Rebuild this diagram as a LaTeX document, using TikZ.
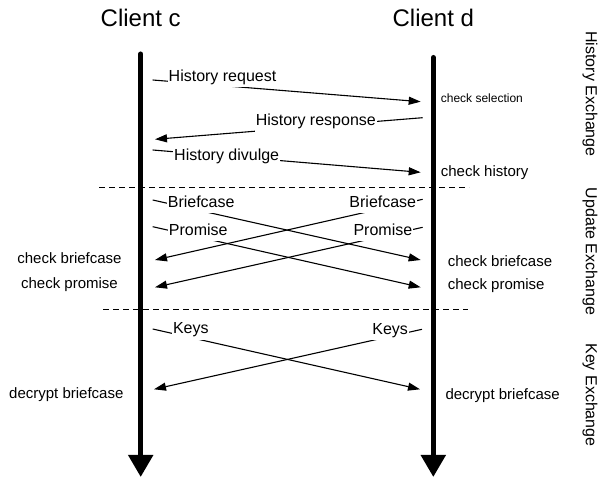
\documentclass[tikz,border=0pt]{standalone}
\usepackage{fontspec}
\setmainfont{Liberation Sans}
\usetikzlibrary{arrows.meta}
\begin{document}
\begin{tikzpicture}[x=1pt,y=-1pt,
  life/.style={line width=5pt, line cap=round, -{Triangle[length=22pt,width=24pt]}},
  msg/.style={line width=1.1pt, -{Triangle[length=12pt,width=8pt]}},
  lbl/.style={fill=white, font=\fontsize{16}{19}\selectfont, inner xsep=1pt, inner ysep=2.5pt, text height=11.5pt, text depth=3.5pt},
  chk/.style={font=\fontsize{15}{18}\selectfont, inner sep=0pt},
  chksmall/.style={font=\fontsize{12}{14}\selectfont, inner sep=0pt},
  sep/.style={line width=1pt, dash pattern=on 6pt off 4pt},
  title/.style={font=\fontsize{24}{28}\selectfont, inner sep=0pt, anchor=base},
  phase/.style={font=\fontsize{16}{19}\selectfont, rotate=-90, inner sep=0pt}]
\useasboundingbox (0,0) rectangle (598,478);
\fill[white] (0,0) rectangle (598,478);
% titles
\node[title] (cc) at (140.7,26.7) {Client c};
\node[title] (cd) at (433.3,26.7) {Client d};
% lifelines
\coordinate (ctop) at (140.7,54);
\coordinate (cbot) at (140.7,477);
\coordinate (dtop) at (433.3,57.5);
\coordinate (dbot) at (433.3,477);
\draw[life] (ctop) -- (cbot);
\draw[life] (dtop) -- (dbot);
% separators
\coordinate (s1a) at (99,187.3);
\coordinate (s1b) at (469,187.3);
\coordinate (s2a) at (103,310);
\coordinate (s2b) at (468.3,310);
\draw[sep] (s1a) -- (s1b);
\draw[sep] (s2a) -- (s2b);
% message end points
\coordinate (reqs) at (152.7,80);    \coordinate (reqe) at (420.7,101.7);
\coordinate (ress) at (422.7,117.7); \coordinate (rese) at (155,139.3);
\coordinate (divs) at (152.7,150);   \coordinate (dive) at (420.7,172.3);
\coordinate (bls) at (152.7,200);    \coordinate (ble) at (420.7,260);
\coordinate (brs) at (422.7,199.3);  \coordinate (bre) at (155,260);
\coordinate (pls) at (152.7,226.7);  \coordinate (ple) at (420.7,287.3);
\coordinate (prs) at (422.7,227.3);  \coordinate (pre) at (155,287.3);
\coordinate (kls) at (152.7,329);    \coordinate (kle) at (420,389.3);
\coordinate (krs) at (422,329.3);    \coordinate (kre) at (154,389.3);
\draw[msg] (reqs) -- (reqe);
\draw[msg] (ress) -- (rese);
\draw[msg] (divs) -- (dive);
\draw[msg] (bls) -- (ble);
\draw[msg] (brs) -- (bre);
\draw[msg] (pls) -- (ple);
\draw[msg] (prs) -- (pre);
\draw[msg] (kls) -- (kle);
\draw[msg] (krs) -- (kre);
% message labels
\node[lbl] (lreq) at (222.5,77.3) {History request};
\node[lbl] (lres) at (315.8,121.7) {History response};
\node[lbl] (ldiv) at (226.7,156.7) {History divulge};
\node[lbl] (lbl1) at (201.2,203.5) {Briefcase};
\node[lbl] (lpl1) at (198.3,231.5) {Promise};
\node[lbl] (lbr1) at (382.8,203.5) {Briefcase};
\node[lbl] (lpr1) at (382.9,231.5) {Promise};
\node[lbl] (lkl) at (190.8,330) {Keys};
\node[lbl] (lkr) at (390.2,330.5) {Keys};
% checks
\node[chksmall, anchor=west] (csel) at (440.7,98) {check selection};
\node[chk, anchor=west] (chis) at (440.7,172.3) {check history};
\node[chk] (cbc) at (69.5,258.3) {check briefcase};
\node[chk] (cpc) at (69.5,285) {check promise};
\node[chk] (dbc) at (66.3,395) {decrypt briefcase};
\node[chk, anchor=west] (cbd) at (447.7,261) {check briefcase};
\node[chk, anchor=west] (cpd) at (447.7,285.7) {check promise};
\node[chk, anchor=west] (dbd) at (445.3,395.7) {decrypt briefcase};
% phases
\node[phase] (ph1) at (590,94) {History Exchange};
\node[phase] (ph2) at (590,251.5) {Update Exchange};
\node[phase] (ph3) at (590,395) {Key Exchange};
\end{tikzpicture}
\end{document}
